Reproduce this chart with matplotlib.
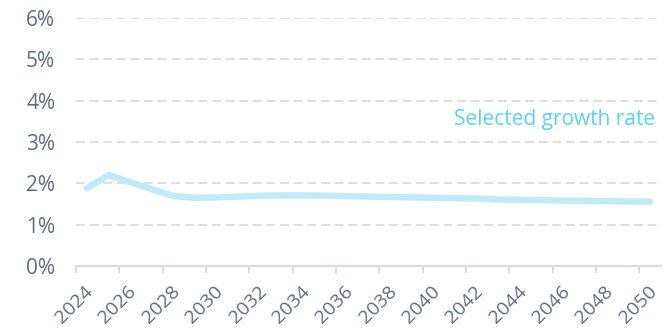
import matplotlib
matplotlib.use("Agg")
import matplotlib.pyplot as plt
from matplotlib.ticker import FuncFormatter
from matplotlib.transforms import ScaledTranslation

years = list(range(2024, 2051))
growth_rate = [1.88, 2.20, 2.03, 1.86, 1.69, 1.65, 1.66, 1.68, 1.70, 1.71,
               1.71, 1.70, 1.69, 1.68, 1.67, 1.66, 1.65, 1.64, 1.63, 1.61,
               1.60, 1.59, 1.58, 1.58, 1.57, 1.56, 1.56]
series_label = "Selected growth rate"
y_ticks = [0, 1, 2, 3, 4, 5, 6]

plt.rcParams["font.family"] = ["Open Sans", "DejaVu Sans"]

fig = plt.figure(figsize=(6.72, 3.31), dpi=100)
ax = fig.add_axes([76 / 672, 1 - 266 / 331, (661 - 76) / 672, (266 - 18) / 331])

# Category axis: each year occupies a band, points sit at the band centres
x = [y + 0.5 for y in years]
ax.plot(x, growth_rate, color="#c0eaf7", lw=4.6, solid_capstyle="round",
        solid_joinstyle="round", zorder=3)

ax.set_xlim(years[0], years[-1] + 1)
ax.set_ylim(0, 6)
ax.set_yticks(y_ticks)
ax.yaxis.set_major_formatter(FuncFormatter(lambda v, p: f"{v:.0f}%"))
ax.set_xticks(years[::2])
ax.set_xticklabels([str(y) for y in years[::2]], rotation=45, ha="right",
                   rotation_mode="anchor")

for v in y_ticks[1:]:
    ax.axhline(v, color="#dcdee4", lw=1.4, dashes=(4.5, 2.5), zorder=1)

for s in ["left", "right", "top"]:
    ax.spines[s].set_visible(False)
ax.spines["bottom"].set_color("#d9dce4")
ax.spines["bottom"].set_linewidth(1.6)

ax.tick_params(axis="y", length=0, pad=15, labelsize=15, labelcolor="#5f6b7e")
ax.tick_params(axis="x", length=5, width=1.4, color="#d9dce4", pad=7,
               labelsize=14, labelcolor="#5f6b7e")

shift = ScaledTranslation(0.08, 0, fig.dpi_scale_trans)
for lab in ax.get_xticklabels():
    lab.set_transform(lab.get_transform() + shift)

ax.text(0.99, 3.55, series_label, transform=ax.get_yaxis_transform(),
        ha="right", va="center", fontsize=15, color="#5fd0f2")

fig.savefig("out.png", dpi=100)
